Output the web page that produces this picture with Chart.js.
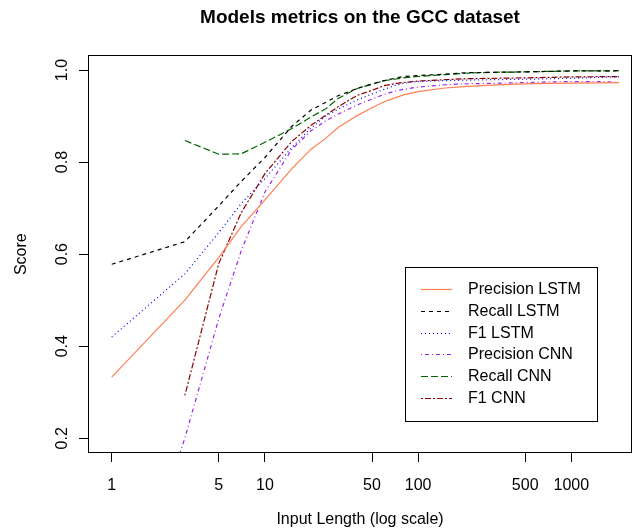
<!DOCTYPE html>
<html><head><meta charset="utf-8">
<script src="https://cdn.jsdelivr.net/npm/chart.js@4.4.1/dist/chart.umd.min.js"></script>
<style>html,body{margin:0;padding:0;background:#fff;}canvas{display:block;}</style>
</head><body>
<canvas id="c" width="644" height="529"></canvas>
<script>
// ---- data ----
const lengths       = [1, 2, 3, 5, 7, 10, 15, 20, 25, 30, 40, 50, 60, 70, 80, 100, 150, 200, 300, 500, 700, 1000, 1500, 2048];
const precisionLSTM = [0.333, null, 0.50, 0.593, 0.66, 0.718, 0.786, 0.828, 0.852, 0.875, 0.901, 0.918, 0.931, 0.939, 0.946, 0.953, 0.961, 0.964, 0.967, 0.970, 0.971, 0.9715, 0.972, 0.9725];
const recallLSTM    = [0.578, null, 0.627, 0.705, 0.758, 0.81, 0.878, 0.913, 0.93, 0.944, 0.96, 0.97, 0.977, 0.982, 0.986, 0.988, 0.991, 0.994, 0.995, 0.996, 0.997, 0.998, 0.998, 0.9985];
const f1LSTM        = [0.42, null, 0.557, 0.647, 0.71, 0.764, 0.832, 0.874, 0.90, 0.915, 0.935, 0.948, 0.958, 0.966, 0.971, 0.975, 0.977, 0.978, 0.979, 0.98, 0.981, 0.982, 0.984, 0.985];
const precisionCNN  = [null, 0.02, 0.20, 0.46, 0.607, 0.735, 0.828, 0.868, 0.89, 0.904, 0.924, 0.937, 0.947, 0.954, 0.958, 0.963, 0.968, 0.970, 0.971, 0.973, 0.974, 0.975, 0.975, 0.973];
const recallCNN     = [null, null, 0.847, 0.817, 0.818, 0.843, 0.873, 0.898, 0.916, 0.938, 0.96, 0.969, 0.977, 0.98, 0.983, 0.986, 0.99, 0.993, 0.995, 0.996, 0.997, 0.998, 0.998, 0.9985];
const f1CNN         = [null, null, 0.293, 0.58, 0.69, 0.775, 0.845, 0.88, 0.902, 0.92, 0.945, 0.956, 0.966, 0.97, 0.973, 0.976, 0.979, 0.981, 0.982, 0.983, 0.984, 0.985, 0.9855, 0.9855];

const seriesNames = ['Precision LSTM', 'Recall LSTM', 'F1 LSTM', 'Precision CNN', 'Recall CNN', 'F1 CNN'];
const seriesValues = [precisionLSTM, recallLSTM, f1LSTM, precisionCNN, recallCNN, f1CNN];

const xTickValues = [1, 5, 10, 50, 100, 500, 1000];
const xTickLabels = ['1', '5', '10', '50', '100', '500', '1000'];
const yTickValues = [0.2, 0.4, 0.6, 0.8, 1.0];
const yTickLabels = ['0.2', '0.4', '0.6', '0.8', '1.0'];

const titleText = 'Models metrics on the GCC dataset';
const xTitle = 'Input Length (log scale)';
const yTitle = 'Score';

// ---- styles ----
const FONT = "'Liberation Sans', Arial, Helvetica, sans-serif";
const lineStyles = [
  { color: '#FF7F50', dash: [] },
  { color: '#000000', dash: [4, 4] },
  { color: '#0000FF', dash: [1, 3] },
  { color: '#A020F0', dash: [1, 3, 4, 3] },
  { color: '#006400', dash: [7, 3] },
  { color: '#8B0000', dash: [2, 2, 6, 2] }
];

const datasets = seriesNames.map((name, s) => ({
  label: name,
  data: lengths.map((x, i) => ({ x: x, y: seriesValues[s][i] })).filter(p => p.y !== null),
  borderColor: lineStyles[s].color,
  borderDash: lineStyles[s].dash,
  borderWidth: 1.2,
  pointRadius: 0,
  tension: 0,
  fill: false
}));

const boxPlugin = {
  id: 'plotBox',
  afterDraw(chart) {
    const { ctx, chartArea: a } = chart;
    ctx.save();
    ctx.strokeStyle = '#000';
    ctx.lineWidth = 1;
    ctx.strokeRect(Math.round(a.left) + 0.5, Math.round(a.top) + 0.5,
                   Math.round(a.right - a.left) - 1, Math.round(a.bottom - a.top) - 1);
    ctx.restore();
  }
};

const legendPlugin = {
  id: 'rLegend',
  afterDatasetsDraw(chart) {
    const ctx = chart.ctx;
    const left = 405, top = 267, w = 192, h = 154;
    ctx.save();
    ctx.fillStyle = '#fff';
    ctx.fillRect(left, top, w, h);
    ctx.strokeStyle = '#000';
    ctx.lineWidth = 1;
    ctx.setLineDash([]);
    ctx.strokeRect(left + 0.5, top + 0.5, w, h);
    chart.data.datasets.forEach((ds, i) => {
      const y = Math.round(289 + i * 21.8) + 0.5;
      ctx.beginPath();
      ctx.strokeStyle = ds.borderColor;
      ctx.lineWidth = ds.borderWidth;
      ctx.setLineDash(ds.borderDash);
      ctx.moveTo(421, y);
      ctx.lineTo(452, y);
      ctx.stroke();
      ctx.setLineDash([]);
      ctx.fillStyle = '#000';
      ctx.font = '16px ' + FONT;
      ctx.textBaseline = 'middle';
      ctx.textAlign = 'left';
      ctx.fillText(ds.label, 468, y);
    });
    ctx.restore();
  }
};

new Chart(document.getElementById('c'), {
  type: 'line',
  data: { datasets: datasets },
  plugins: [boxPlugin, legendPlugin],
  options: {
    responsive: false,
    animation: false,
    devicePixelRatio: 1,
    events: [],
    layout: { padding: { left: 0, right: 12, top: 0, bottom: 0 } },
    plugins: {
      legend: { display: false },
      tooltip: { enabled: false },
      title: {
        display: true,
        text: titleText,
        fullSize: false,
        color: '#000',
        font: { family: FONT, size: 19, weight: 'bold' },
        padding: { top: 6, bottom: 26.5 }
      }
    },
    scales: {
      x: {
        type: 'logarithmic',
        min: 0.742,
        max: 2489,
        afterBuildTicks(scale) { scale.ticks = xTickValues.map(v => ({ value: v })); },
        afterFit(scale) { scale.height = 76; },
        grid: { display: true, drawOnChartArea: false, drawTicks: true, tickLength: 9, color: '#000', tickColor: '#000' },
        border: { display: false },
        ticks: {
          color: '#000',
          font: { family: FONT, size: 16 },
          padding: 14,
          maxRotation: 0,
          minRotation: 0,
          autoSkip: false,
          callback: (v, i) => xTickLabels[i]
        },
        title: { display: true, text: xTitle, color: '#000', font: { family: FONT, size: 16 }, padding: { top: 0, bottom: 0 } }
      },
      y: {
        type: 'linear',
        min: 0.168,
        max: 1.032,
        afterBuildTicks(scale) { scale.ticks = yTickValues.map(v => ({ value: v })); },
        afterFit(scale) { scale.width = 88; },
        grid: { display: true, drawOnChartArea: false, drawTicks: true, tickLength: 9, color: '#000', tickColor: '#000' },
        border: { display: false },
        ticks: {
          color: '#000',
          font: { family: FONT, size: 16 },
          padding: 5,
          minRotation: 90,
          maxRotation: 90,
          crossAlign: 'center',
          autoSkip: false,
          callback: (v, i) => yTickLabels[i]
        },
        title: { display: true, text: yTitle, color: '#000', font: { family: FONT, size: 16 }, padding: { top: 12, bottom: 0 } }
      }
    }
  }
});
</script>
</body></html>
